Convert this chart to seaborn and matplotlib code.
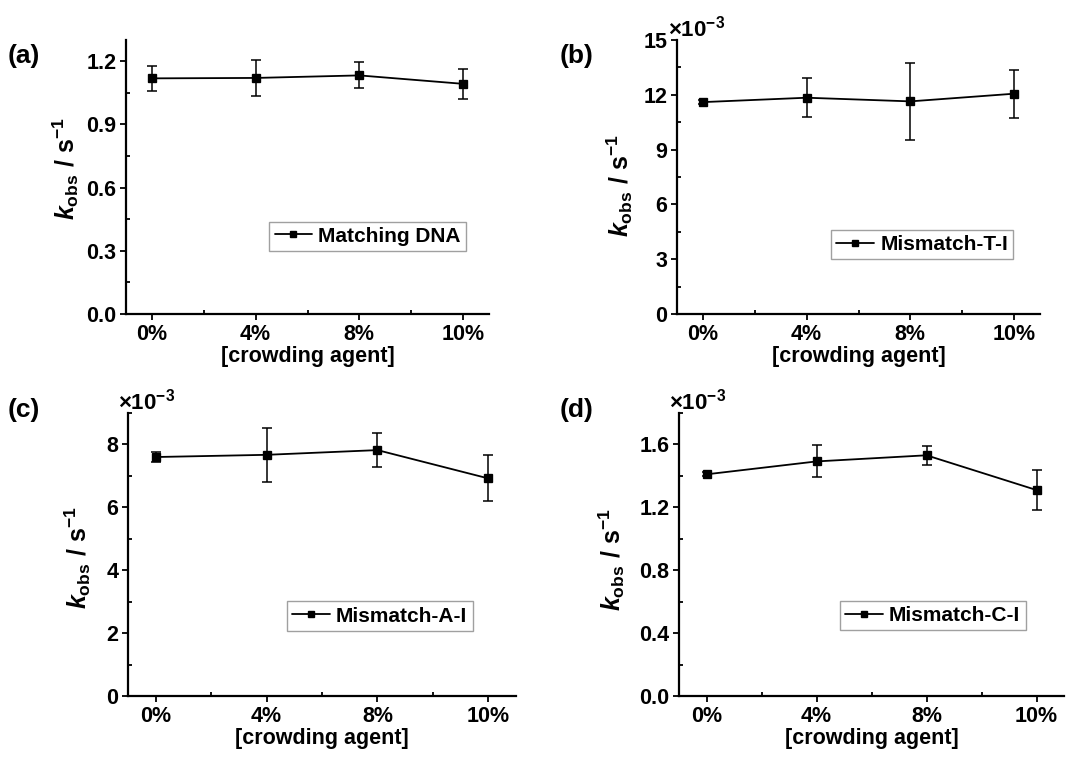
import matplotlib
matplotlib.use("Agg")
import matplotlib.pyplot as plt
from matplotlib.lines import Line2D
from matplotlib.ticker import MultipleLocator, FixedLocator
import seaborn as sns
import numpy as np

# ---- data ----
categories = ["0%", "4%", "8%", "10%"]

matching_vals = [1.118, 1.120, 1.132, 1.092]
matching_errs = [0.060, 0.085, 0.062, 0.070]

mis_t_vals = [11.60, 11.84, 11.64, 12.06]   # x10^-3
mis_t_errs = [0.10, 1.06, 2.10, 1.32]

mis_a_vals = [7.60, 7.67, 7.82, 6.92]       # x10^-3
mis_a_errs = [0.16, 0.85, 0.53, 0.73]

mis_c_vals = [1.410, 1.492, 1.531, 1.310]   # x10^-3
mis_c_errs = [0.012, 0.102, 0.060, 0.125]

series_names = ["Matching DNA", "Mismatch-T-I", "Mismatch-A-I", "Mismatch-C-I"]
panel_labels = ["(a)", "(b)", "(c)", "(d)"]
ylims = [(0, 1.3), (0, 15), (0, 9), (0, 1.8)]
ymajor = [0.3, 3, 2, 0.4]
yfmt = ["{:.1f}", "{:.0f}", "{:.0f}", "{:.1f}"]
show_exp = [False, True, True, True]

sns.set_theme(style="ticks")
plt.rcParams["font.family"] = ["Liberation Sans", "DejaVu Sans"]
plt.rcParams["font.weight"] = "bold"
plt.rcParams["axes.labelweight"] = "bold"
plt.rcParams["text.color"] = "black"
plt.rcParams["axes.labelcolor"] = "black"
plt.rcParams["xtick.color"] = "black"
plt.rcParams["ytick.color"] = "black"
plt.rcParams["mathtext.fontset"] = "custom"
plt.rcParams["mathtext.rm"] = "Liberation Sans:bold"
plt.rcParams["mathtext.bf"] = "Liberation Sans:bold"
plt.rcParams["mathtext.it"] = "Liberation Sans:italic:bold"
plt.rcParams["mathtext.sf"] = "Liberation Sans:bold"

W, H = 1066, 760
fig = plt.figure(figsize=(W / 100, H / 100), dpi=100)

boxes = [(126, 489, 40, 314), (677, 1040, 40, 314),
         (128, 516, 413, 696), (679, 1064, 413, 696)]
legend_anchor = [(0.937, 0.23), (0.926, 0.20), (0.888, 0.23), (0.90, 0.233)]
label_pos = [(8, 56), (560, 56), (8, 410), (560, 410)]
ylabel_coords = [(-0.125, 0.531), (-0.116, 0.468), (-0.091, 0.488), (-0.136, 0.484)]

all_vals = [matching_vals, mis_t_vals, mis_a_vals, mis_c_vals]
all_errs = [matching_errs, mis_t_errs, mis_a_errs, mis_c_errs]

for i in range(4):
    l, r, t, b = boxes[i]
    ax = fig.add_axes([l / W, 1 - b / H, (r - l) / W, (b - t) / H])
    vals = all_vals[i]
    errs = all_errs[i]
    sns.pointplot(x=categories, y=vals, ax=ax, color="black", marker="s",
                  markersize=5.5, linewidth=1.3, errorbar=None)
    ax.errorbar(np.arange(len(categories)), vals, yerr=errs, fmt="none",
                ecolor="black", elinewidth=1.1, capsize=3.5, capthick=1.1)
    ax.set_xlim(-0.25, 3.25)
    ax.set_ylim(*ylims[i])
    ax.yaxis.set_major_locator(MultipleLocator(ymajor[i]))
    ax.yaxis.set_minor_locator(MultipleLocator(ymajor[i] / 2))
    ax.set_yticks(ax.get_yticks())
    ax.set_yticklabels([yfmt[i].format(v) for v in ax.get_yticks()])
    ax.set_ylim(*ylims[i])
    ax.xaxis.set_minor_locator(FixedLocator([0.5, 1.5, 2.5]))
    ax.tick_params(axis="both", which="major", direction="out", length=4,
                   width=1.3, labelsize=15.5, pad=3, color="black",
                   labelcolor="black")
    ax.tick_params(axis="both", which="minor", direction="in", length=3,
                   width=1.3, color="black")
    for lab in ax.get_xticklabels() + ax.get_yticklabels():
        lab.set_fontweight("bold")
    for s in ["top", "right"]:
        ax.spines[s].set_visible(False)
    for s in ["left", "bottom"]:
        ax.spines[s].set_linewidth(1.6)
        ax.spines[s].set_color("black")
    ax.set_xlabel("[crowding agent]", fontsize=15.5, fontweight="bold",
                  labelpad=1, color="black")
    ax.set_ylabel(r"$\mathit{k}_{\mathrm{obs}}\ \mathrm{/\ s}^{\mathrm{-1}}$",
                  fontsize=18, color="black")
    ax.yaxis.set_label_coords(*ylabel_coords[i])
    handle = Line2D([], [], color="black", marker="s", markersize=4, linewidth=1.3)
    leg = ax.legend([handle], [series_names[i]], loc="lower right",
                    bbox_to_anchor=legend_anchor[i], fontsize=15,
                    frameon=True, fancybox=False, handlelength=1.8,
                    handletextpad=0.3, borderpad=0.25, borderaxespad=0)
    leg.get_frame().set_edgecolor("#888888")
    leg.get_frame().set_linewidth(1.0)
    for txt in leg.get_texts():
        txt.set_fontweight("bold")
        txt.set_color("black")
    if show_exp[i]:
        ax.text(-0.025, 0.995, r"$\times\mathrm{10^{-3}}$", transform=ax.transAxes,
                ha="left", va="bottom", fontsize=16, color="black")
    fig.text(label_pos[i][0] / W, 1 - label_pos[i][1] / H, panel_labels[i],
             ha="left", va="center", fontsize=19, fontweight="bold", color="black")

fig.savefig("out.png", dpi=100)
